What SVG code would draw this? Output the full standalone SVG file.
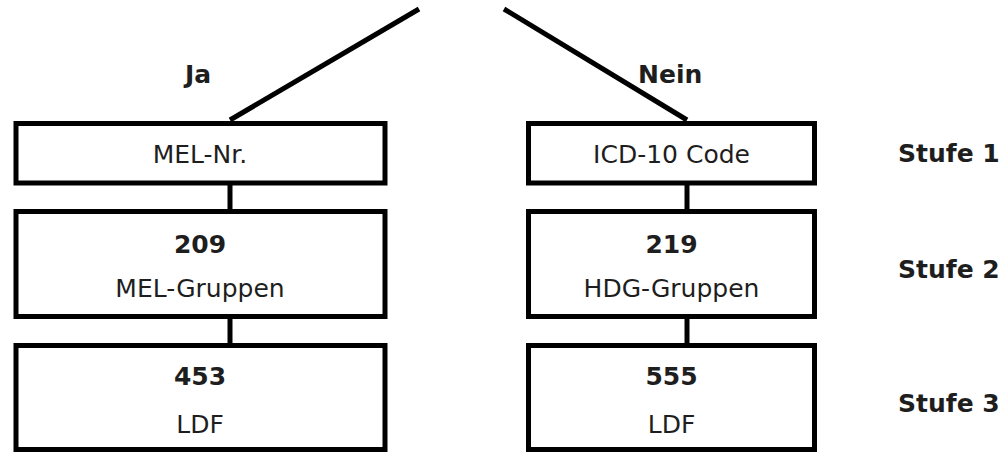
<svg xmlns="http://www.w3.org/2000/svg" width="1004" height="452" viewBox="0 0 1004 452">
<style>
.box{fill:#fff;stroke:#000;stroke-width:5}
.con{stroke:#000;stroke-width:5;fill:none}
.t{font-family:"DejaVu Sans",Verdana,sans-serif;font-size:25px;fill:#1e1e1e;text-anchor:middle}
.b{font-weight:bold}
.lbl{font-family:"DejaVu Sans",Verdana,sans-serif;font-size:25px;font-weight:bold;fill:#1e1e1e}
</style>
<rect width="1004" height="452" fill="#fff"/>
<g id="connectors">
<line class="con" x1="230" y1="120" x2="419" y2="9"/>
<line class="con" x1="504" y1="9" x2="687" y2="120"/>
<line class="con" x1="230" y1="185" x2="230" y2="210"/>
<line class="con" x1="230" y1="318" x2="230" y2="345"/>
<line class="con" x1="687" y1="185" x2="687" y2="210"/>
<line class="con" x1="687" y1="318" x2="687" y2="345"/>
</g>
<g id="label-ja"><text class="lbl" x="185" y="83">Ja</text></g>
<g id="label-nein"><text class="lbl" x="638" y="83">Nein</text></g>
<g id="mel-nr">
<rect class="box" x="16" y="123.5" width="369" height="59.5"/>
<text class="t" x="200" y="163">MEL-Nr.</text>
</g>
<g id="icd10">
<rect class="box" x="528.5" y="123.5" width="286" height="59.5"/>
<text class="t" x="671.5" y="163">ICD-10 Code</text>
</g>
<g id="mel-gruppen">
<rect class="box" x="16" y="211.5" width="369" height="105"/>
<text class="t b" x="200" y="253">209</text>
<text class="t" x="200" y="297">MEL-Gruppen</text>
</g>
<g id="hdg-gruppen">
<rect class="box" x="528.5" y="211.5" width="286" height="105"/>
<text class="t b" x="671.5" y="253">219</text>
<text class="t" x="671.5" y="297">HDG-Gruppen</text>
</g>
<g id="ldf-left">
<rect class="box" x="16" y="345.5" width="369" height="104"/>
<text class="t b" x="200" y="385">453</text>
<text class="t" x="200" y="433">LDF</text>
</g>
<g id="ldf-right">
<rect class="box" x="528.5" y="345.5" width="286" height="104"/>
<text class="t b" x="671.5" y="385">555</text>
<text class="t" x="671.5" y="433">LDF</text>
</g>
<g id="stufe1"><text class="lbl" x="898" y="162">Stufe 1</text></g>
<g id="stufe2"><text class="lbl" x="898" y="278">Stufe 2</text></g>
<g id="stufe3"><text class="lbl" x="898" y="412">Stufe 3</text></g>
</svg>
